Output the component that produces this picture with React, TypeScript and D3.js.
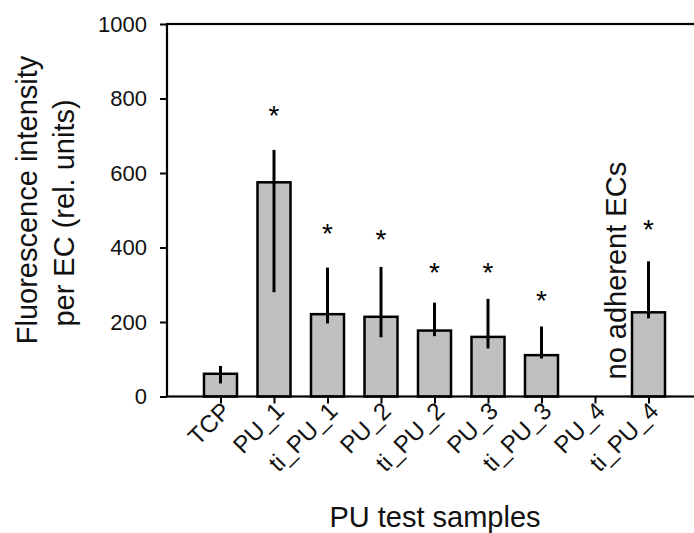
import React, { useEffect, useRef } from 'react';
import * as d3 from 'd3';

const categories = ['TCP', 'PU_1', 'ti_PU_1', 'PU_2', 'ti_PU_2', 'PU_3', 'ti_PU_3', 'PU_4', 'ti_PU_4'];
const means = [61, 575, 221, 214, 177, 160, 111, null, 226];
const errLow = [35, 280, 196, 159, 162, 129, 102, null, 210];
const errHigh = [82, 662, 346, 348, 252, 262, 188, null, 363];
const starLevels = [null, 772, 456, 440, 351, 351, 277, null, 466];
const yTicks = [0, 200, 400, 600, 800, 1000];
const noDataNote = 'no adherent ECs';

const FONT = "'Liberation Sans', Arial, sans-serif";

const BarChart = ({ width = 694, height = 533 }) => {
    const svgRef = useRef<SVGSVGElement>(null);

    useEffect(() => {
        const svg = d3.select(svgRef.current);
        svg.selectAll('*').remove();

        const left = 167;
        const top = 24;
        const bottom = 396.5;
        const right = 702;

        const x = d3.scalePoint<string>().domain(categories).range([left, right]).padding(1);
        const y = d3.scaleLinear().domain([0, 1000]).range([bottom, top]);

        const barW = 33;
        const rows = categories.map((c, i) => ({
            cat: c,
            mean: means[i],
            lo: errLow[i],
            hi: errHigh[i],
            star: starLevels[i],
        }));

        // bars
        svg.append('g')
            .selectAll('rect')
            .data(rows.filter((d) => d.mean != null))
            .enter()
            .append('rect')
            .attr('x', (d) => (x(d.cat) as number) - barW / 2)
            .attr('y', (d) => y(d.mean as number))
            .attr('width', barW)
            .attr('height', (d) => y(0) - y(d.mean as number))
            .attr('fill', '#c0c0c0')
            .attr('stroke', '#000')
            .attr('stroke-width', 2.5);

        // error bars
        svg.append('g')
            .selectAll('line')
            .data(rows.filter((d) => d.lo != null))
            .enter()
            .append('line')
            .attr('x1', (d) => x(d.cat) as number)
            .attr('x2', (d) => x(d.cat) as number)
            .attr('y1', (d) => y(d.lo as number))
            .attr('y2', (d) => y(d.hi as number))
            .attr('stroke', '#000')
            .attr('stroke-width', 3);

        // significance stars
        const starSize = 28;
        svg.append('g')
            .selectAll('text')
            .data(rows.filter((d) => d.star != null))
            .enter()
            .append('text')
            .attr('x', (d) => x(d.cat) as number)
            .attr('y', (d) => y(d.star as number) + starSize * 0.585)
            .attr('text-anchor', 'middle')
            .style('font-family', FONT)
            .style('font-size', `${starSize}px`)
            .text('*');

        // frame
        const frame = svg.append('g').attr('stroke', '#000').attr('stroke-width', 2.2).attr('fill', 'none');
        frame.append('rect')
            .attr('x', left)
            .attr('y', top)
            .attr('width', right - left)
            .attr('height', bottom - top);

        // y axis
        const yAxis = svg.append('g')
            .attr('transform', `translate(${left},0)`)
            .call(d3.axisLeft(y).tickValues(yTicks).tickFormat(d3.format('d')).tickSize(7).tickPadding(13).tickSizeOuter(0));
        yAxis.select('.domain').remove();
        yAxis.selectAll('line').attr('stroke-width', 2);
        yAxis.selectAll('text')
            .style('font-family', FONT)
            .style('font-size', '22px')
            .attr('fill', '#111');

        // x axis
        const xAxis = svg.append('g')
            .attr('transform', `translate(0,${bottom})`)
            .call(d3.axisBottom(x).tickSize(7).tickSizeOuter(0));
        xAxis.select('.domain').remove();
        xAxis.selectAll('line').attr('stroke-width', 2);
        xAxis.selectAll('text')
            .attr('y', 0)
            .attr('dy', 0)
            .attr('text-anchor', 'end')
            .attr('transform', 'translate(11,16) rotate(-45)')
            .style('font-family', FONT)
            .style('font-size', '24px')
            .attr('fill', '#111');

        // note for missing sample
        const pu4 = x('PU_4') as number;
        svg.append('text')
            .attr('transform', `translate(${pu4 + 31},${y(0) - 17}) rotate(-90)`)
            .style('font-family', FONT)
            .style('font-size', '29px')
            .attr('fill', '#111')
            .text(noDataNote);

        // axis titles
        svg.append('text')
            .attr('x', 435)
            .attr('y', 527)
            .attr('text-anchor', 'middle')
            .style('font-family', FONT)
            .style('font-size', '29px')
            .attr('fill', '#111')
            .text('PU test samples');

        const yTitle = svg.append('text')
            .attr('transform', 'rotate(-90)')
            .attr('text-anchor', 'middle')
            .style('font-family', FONT)
            .style('font-size', '29px')
            .attr('fill', '#111');
        yTitle.append('tspan').attr('x', -200).attr('y', 37).text('Fluorescence intensity');
        yTitle.append('tspan').attr('x', -213).attr('y', 74).text('per EC (rel. units)');
    }, [width, height]);

    return (
        <svg
            ref={svgRef}
            width={width}
            height={height}
            style={{ position: 'absolute', left: 0, top: 0, background: '#fff' }}
        />
    );
};

export default function App() {
    return <BarChart />;
}
